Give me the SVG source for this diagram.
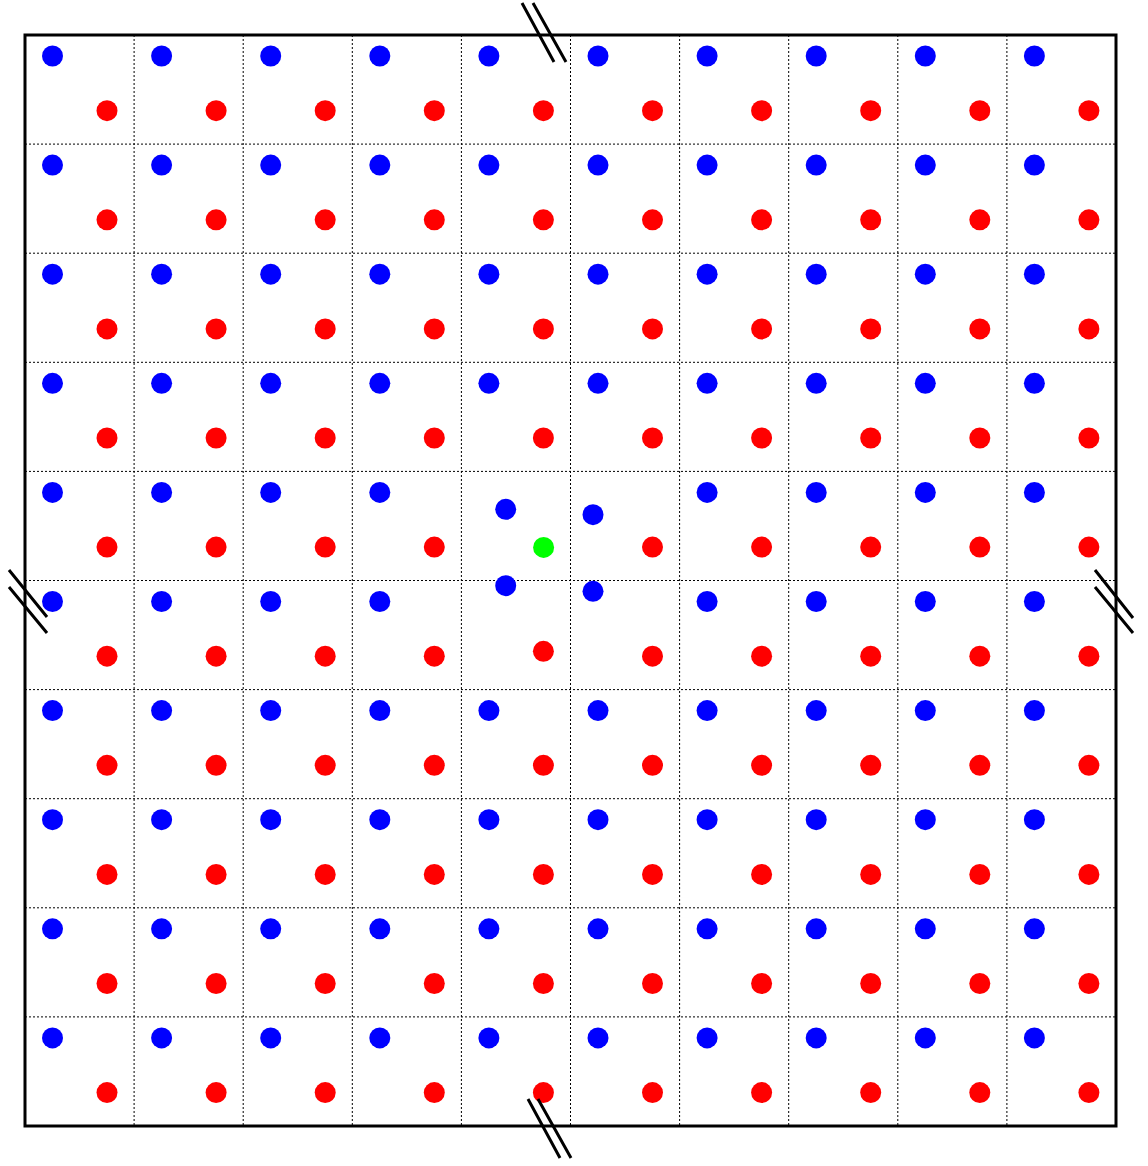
<svg xmlns="http://www.w3.org/2000/svg" width="1148" height="1166" viewBox="0 0 1148 1166">
<style>
.g{stroke:#000;stroke-width:1;stroke-dasharray:2,2;fill:none}
.b{fill:#0000ff}
.r{fill:#ff0000}
.gr{fill:#00ff00}
.brk{stroke:#000;stroke-width:3;fill:none}
</style>
<rect x="0" y="0" width="1148" height="1166" fill="#fff"/>
<g id="grid">
<path class="g" d="M134.1 35V1126M243.2 35V1126M352.3 35V1126M461.4 35V1126M570.5 35V1126M679.6 35V1126M788.7 35V1126M897.8 35V1126M1006.9 35V1126"/>
<path class="g" d="M25 144.1H1116M25 253.2H1116M25 362.3H1116M25 471.4H1116M25 580.5H1116M25 689.6H1116M25 798.7H1116M25 907.8H1116M25 1016.9H1116"/>
</g>
<rect id="border" x="25" y="35" width="1091" height="1091" fill="none" stroke="#000" stroke-width="3"/>
<defs>
<g id="row">
<circle class="b" cx="52.5" cy="0" r="10.5"/><circle class="b" cx="161.6" cy="0" r="10.5"/><circle class="b" cx="270.7" cy="0" r="10.5"/><circle class="b" cx="379.8" cy="0" r="10.5"/><circle class="b" cx="488.9" cy="0" r="10.5"/><circle class="b" cx="598" cy="0" r="10.5"/><circle class="b" cx="707.1" cy="0" r="10.5"/><circle class="b" cx="816.2" cy="0" r="10.5"/><circle class="b" cx="925.3" cy="0" r="10.5"/><circle class="b" cx="1034.4" cy="0" r="10.5"/>
<circle class="r" cx="107" cy="54.7" r="10.5"/><circle class="r" cx="216.1" cy="54.7" r="10.5"/><circle class="r" cx="325.2" cy="54.7" r="10.5"/><circle class="r" cx="434.3" cy="54.7" r="10.5"/><circle class="r" cx="543.4" cy="54.7" r="10.5"/><circle class="r" cx="652.5" cy="54.7" r="10.5"/><circle class="r" cx="761.6" cy="54.7" r="10.5"/><circle class="r" cx="870.7" cy="54.7" r="10.5"/><circle class="r" cx="979.8" cy="54.7" r="10.5"/><circle class="r" cx="1088.9" cy="54.7" r="10.5"/>
</g>
</defs>
<g id="atoms">
<use href="#row" x="0" y="56"/>
<use href="#row" x="0" y="165.1"/>
<use href="#row" x="0" y="274.2"/>
<use href="#row" x="0" y="383.3"/>
<g id="row4">
<circle class="b" cx="52.5" cy="492.4" r="10.5"/><circle class="b" cx="161.6" cy="492.4" r="10.5"/><circle class="b" cx="270.7" cy="492.4" r="10.5"/><circle class="b" cx="379.8" cy="492.4" r="10.5"/><circle class="b" cx="707.1" cy="492.4" r="10.5"/><circle class="b" cx="816.2" cy="492.4" r="10.5"/><circle class="b" cx="925.3" cy="492.4" r="10.5"/><circle class="b" cx="1034.4" cy="492.4" r="10.5"/>
<circle class="r" cx="107" cy="547.1" r="10.5"/><circle class="r" cx="216.1" cy="547.1" r="10.5"/><circle class="r" cx="325.2" cy="547.1" r="10.5"/><circle class="r" cx="434.3" cy="547.1" r="10.5"/><circle class="r" cx="652.5" cy="547.1" r="10.5"/><circle class="r" cx="761.6" cy="547.1" r="10.5"/><circle class="r" cx="870.7" cy="547.1" r="10.5"/><circle class="r" cx="979.8" cy="547.1" r="10.5"/><circle class="r" cx="1088.9" cy="547.1" r="10.5"/>
</g>
<g id="row5">
<circle class="b" cx="52.5" cy="601.5" r="10.5"/><circle class="b" cx="161.6" cy="601.5" r="10.5"/><circle class="b" cx="270.7" cy="601.5" r="10.5"/><circle class="b" cx="379.8" cy="601.5" r="10.5"/><circle class="b" cx="707.1" cy="601.5" r="10.5"/><circle class="b" cx="816.2" cy="601.5" r="10.5"/><circle class="b" cx="925.3" cy="601.5" r="10.5"/><circle class="b" cx="1034.4" cy="601.5" r="10.5"/>
<circle class="r" cx="107" cy="656.2" r="10.5"/><circle class="r" cx="216.1" cy="656.2" r="10.5"/><circle class="r" cx="325.2" cy="656.2" r="10.5"/><circle class="r" cx="434.3" cy="656.2" r="10.5"/><circle class="r" cx="543.4" cy="651.3" r="10.5"/><circle class="r" cx="652.5" cy="656.2" r="10.5"/><circle class="r" cx="761.6" cy="656.2" r="10.5"/><circle class="r" cx="870.7" cy="656.2" r="10.5"/><circle class="r" cx="979.8" cy="656.2" r="10.5"/><circle class="r" cx="1088.9" cy="656.2" r="10.5"/>
</g>
<g id="defect">
<circle class="b" cx="505.7" cy="509.3" r="10.5"/>
<circle class="b" cx="593" cy="514.7" r="10.5"/>
<circle class="b" cx="505.7" cy="585.7" r="10.5"/>
<circle class="b" cx="593" cy="591.3" r="10.5"/>
<circle class="gr" cx="543.6" cy="547.4" r="10.5"/>
</g>
<use href="#row" x="0" y="710.6"/>
<use href="#row" x="0" y="819.7"/>
<use href="#row" x="0" y="928.8"/>
<use href="#row" x="0" y="1037.9"/>
</g>
<g id="breaks">
<path class="brk" d="M522 3L554 62M533 3L566 62"/>
<path class="brk" d="M9 570L47 617M9 587L47 633"/>
<path class="brk" d="M1095 570L1133 618M1095 587L1133 633"/>
<path class="brk" d="M528 1099L560 1158M538 1099L571 1158"/>
</g>
</svg>
